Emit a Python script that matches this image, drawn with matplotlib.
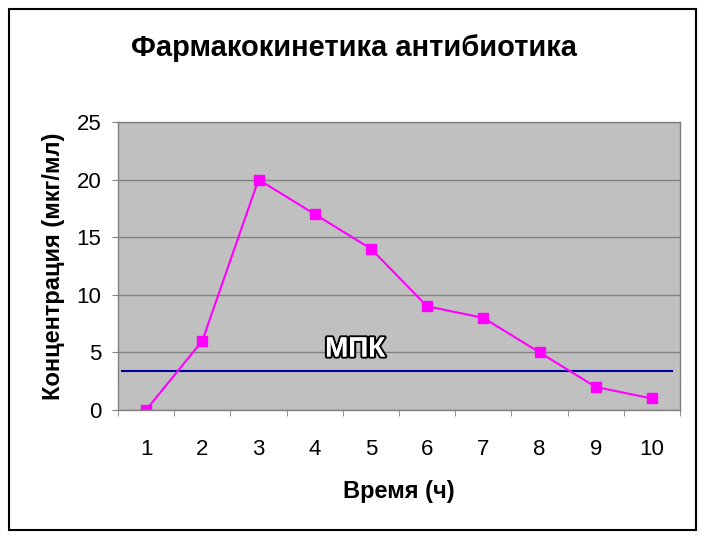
import matplotlib
matplotlib.use("Agg")
import matplotlib.pyplot as plt
import matplotlib.patheffects as pe
from matplotlib.patches import Rectangle

hours = [1, 2, 3, 4, 5, 6, 7, 8, 9, 10]
concentration = [0, 6, 20, 17, 14, 9, 8, 5, 2, 1]
mic_value = 3.4
title = "Фармакокинетика антибиотика"
xlabel = "Время (ч)"
ylabel = "Концентрация (мкг/мл)"
mic_label = "МПК"

plt.rcParams['font.family'] = ['Liberation Sans', 'DejaVu Sans']

W, H = 720, 540
fig = plt.figure(figsize=(7.2, 5.4), dpi=100)
fig.patch.set_facecolor('white')
fig.patches.append(Rectangle((9 / W, 1 - 530 / H), (696 - 9) / W, (530 - 9) / H,
                             transform=fig.transFigure, fill=False,
                             edgecolor='black', linewidth=1.5))

ax = fig.add_axes([118 / W, 1 - 410 / H, (680 - 118) / W, (410 - 122) / H])
ax.set_facecolor('#c0c0c0')
ax.set_xlim(0.5, 10.5)
ax.set_ylim(0, 25)
ax.set_yticks([0, 5, 10, 15, 20, 25])
ax.grid(axis='y', color='#808080', linewidth=1)
ax.set_axisbelow(True)
for s in ax.spines.values():
    s.set_color('#808080')
    s.set_linewidth(1)

ax.set_xticks(hours)
ax.set_xticks([h + 0.5 for h in [0] + hours], minor=True)
ax.tick_params(axis='x', which='major', length=0, labelsize=16, pad=21)
ax.tick_params(axis='x', which='minor', length=4, color='#808080', direction='out')
ax.tick_params(axis='y', length=4, color='#808080', labelsize=16, pad=8)

ax.axhline(mic_value, xmin=0.007, xmax=0.986, color='#0000a0', linewidth=1.5)
ax.plot(hours, concentration, color='#ff00ff', linewidth=1.5, marker='s',
        markersize=7.5, markerfacecolor='#ff00ff', markeredgecolor='#ff00ff')

ax.text(4.72, 5.25, mic_label, ha='center', va='center', fontsize=20,
        fontweight='bold', color='white',
        family=['Liberation Sans Narrow', 'Liberation Sans', 'DejaVu Sans'],
        path_effects=[pe.withStroke(linewidth=3, foreground='black'), pe.Normal()])

fig.text(354 / W, 1 - 48 / H, title, ha='center', va='center',
         fontsize=21, fontweight='bold')
ax.set_xlabel(xlabel, fontsize=17, fontweight='bold', labelpad=14)
ax.set_ylabel(ylabel, fontsize=17, fontweight='bold', labelpad=8)

fig.savefig('out.png', dpi=100)
